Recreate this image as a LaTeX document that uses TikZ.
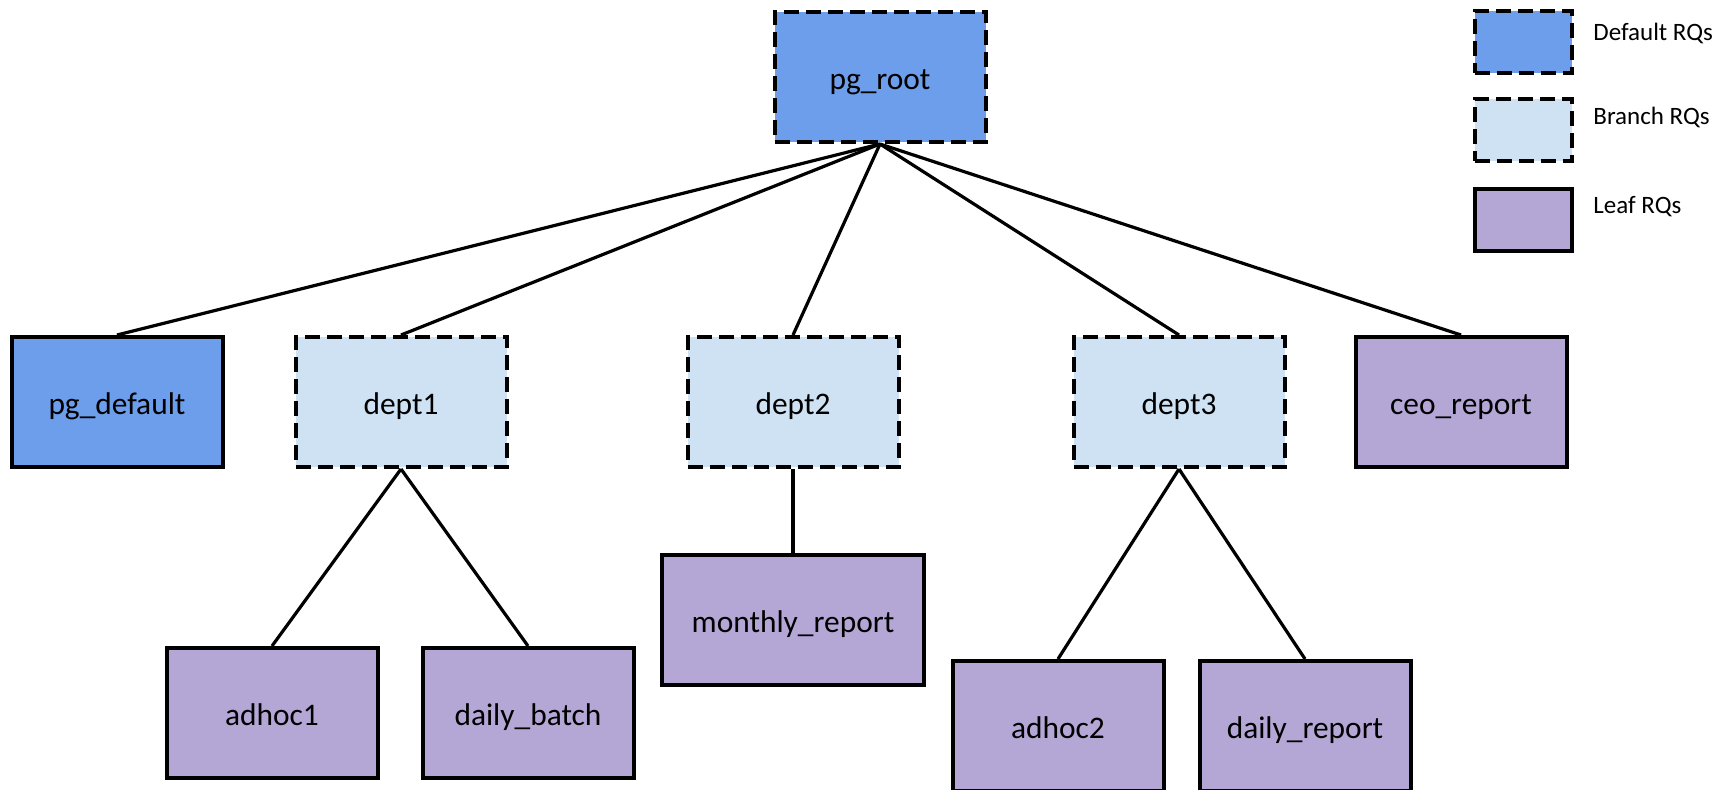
\documentclass[tikz,border=0pt]{standalone}
\usepackage{fontspec}
\setmainfont{Carlito}
\definecolor{rqdefault}{HTML}{6D9EEB}
\definecolor{rqbranch}{HTML}{CFE2F3}
\definecolor{rqleaf}{HTML}{B4A7D6}
\tikzset{
  rq/.style={rectangle, minimum width=105.5pt, minimum height=65pt, line width=2pt,
    font=\fontsize{15.7}{18}\selectfont, inner sep=0pt, text height=1.2em, text depth=0pt},
  rqdash/.style={dash pattern=on 7.5pt off 3.5pt},
  defaultrq/.style={rq, draw, rqdash, fill=rqdefault},
  defaultsolid/.style={rq, draw, fill=rqdefault},
  branchrq/.style={rq, draw, rqdash, fill=rqbranch},
  leafrq/.style={rq, draw, fill=rqleaf},
  keybox/.style={minimum width=48.5pt, minimum height=31pt},
  keytext/.style={anchor=base west, font=\fontsize{12.5}{15}\selectfont, inner sep=0pt},
  link/.style={line width=1.6pt}
}
\begin{document}
\begin{tikzpicture}[x=0.5pt, y=-0.5pt]
  \useasboundingbox (0,0) rectangle (1723,789);

  % top level
  \node[defaultrq] (root) at (880,77) {pg\_root};

  % second level
  \node[defaultsolid] (pgdefault) at (117,402) {pg\_default};
  \node[branchrq] (dept1) at (401,402) {dept1};
  \node[branchrq] (dept2) at (793,402) {dept2};
  \node[branchrq] (dept3) at (1179,402) {dept3};
  \node[leafrq] (ceo) at (1461,402) {ceo\_report};

  % leaves
  \node[leafrq] (adhoc1) at (272,713) {adhoc1};
  \node[leafrq] (dailybatch) at (528,713) {daily\_batch};
  \node[leafrq, minimum width=131pt] (monthly) at (793,620) {monthly\_report};
  \node[leafrq] (adhoc2) at (1058,726) {adhoc2};
  \node[leafrq] (dailyreport) at (1305,726) {daily\_report};

  % legend
  \node[defaultrq, keybox] (keydefault) at (1523,42) {};
  \node[branchrq, keybox] (keybranch) at (1523,130) {};
  \node[leafrq, keybox] (keyleaf) at (1523,220) {};
  \node[keytext] (keydefaulttext) at (1593,40) {Default RQs};
  \node[keytext] (keybranchtext) at (1593,124) {Branch RQs};
  \node[keytext] (keyleaftext) at (1593,213) {Leaf RQs};

  \draw[link] (root.south) -- (pgdefault.north);
  \draw[link] (root.south) -- (dept1.north);
  \draw[link] (root.south) -- (dept2.north);
  \draw[link] (root.south) -- (dept3.north);
  \draw[link] (root.south) -- (ceo.north);
  \draw[link] (dept1.south) -- (adhoc1.north);
  \draw[link] (dept1.south) -- (dailybatch.north);
  \draw[link] (dept2.south) -- (monthly.north);
  \draw[link] (dept3.south) -- (adhoc2.north);
  \draw[link] (dept3.south) -- (dailyreport.north);
\end{tikzpicture}
\end{document}
